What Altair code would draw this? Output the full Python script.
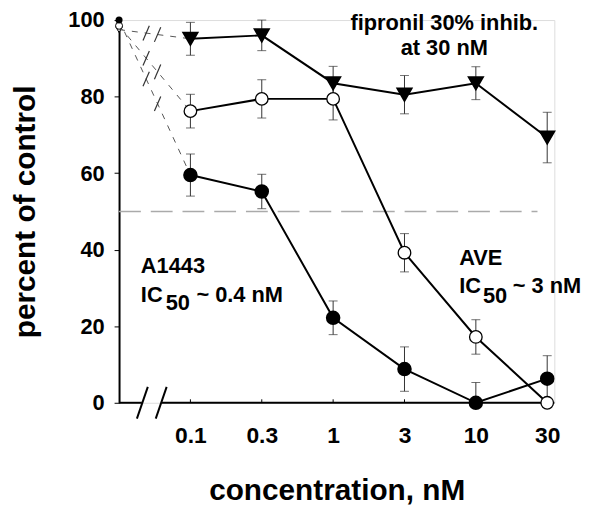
import altair as alt
import pandas as pd

# ---------------- data ----------------
conc_labels = ["0.1", "0.3", "1", "3", "10", "30"]
conc_pos = [0, 1, 2, 3, 4, 5]
control_pos = -1

a1443 = [59.5, 55.2, 22.2, 8.8, 0.0, 6.3]
a1443_err = [5.5, 4.5, 4.4, 5.8, 5.3, 6.0]
a1443_control = 100.0

ave = [76.2, 79.4, 79.4, 39.2, 17.2, 0.0]
ave_err = [4.4, 5.0, 5.5, 5.0, 4.5, 0.0]
ave_control = 98.5

fipronil = [95.1, 96.0, 83.5, 80.5, 83.5, 69.3]
fipronil_err = [4.3, 4.0, 4.4, 5.0, 4.3, 6.6]
fipronil_control = 97.5

y_ticks = [0, 20, 40, 60, 80, 100]
half_level = 50

# ---------------- layout ----------------
W, H = 439, 386
TOP = 10
X_DOM = [-1, 5.1]
Y_DOM = [0, 100]
PX_X = W / (X_DOM[1] - X_DOM[0])
PX_Y = H / (Y_DOM[1] - Y_DOM[0])
FONT = "Liberation Sans"

xs = alt.Scale(domain=X_DOM, nice=False, zero=False)
ys = alt.Scale(domain=Y_DOM, nice=False, zero=False)

label_js = "[" + ",".join("'%s'" % s for s in conc_labels) + "]"
xaxis = alt.Axis(values=conc_pos, labelExpr=label_js + "[datum.value]",
                 domain=False, ticks=False, tickSize=0, grid=False,
                 labelFont=FONT, labelFontSize=23, labelFontWeight="bold",
                 labelColor="black", labelPadding=22,
                 title="concentration, nM", titleFont=FONT, titleFontSize=30,
                 titleFontWeight="bold", titleColor="black",
                 titleBaseline="alphabetic", titleY=98)
yaxis = alt.Axis(values=y_ticks, domain=True, domainColor="black", domainWidth=2,
                 ticks=True, tickColor="black", tickWidth=1, tickSize=5, grid=False,
                 labelFont=FONT, labelFontSize=22, labelFontWeight="bold",
                 labelColor="black", labelPadding=10,
                 title="percent of control", titleFont=FONT, titleFontSize=30,
                 titleFontWeight="bold", titleColor="black",
                 titleBaseline="alphabetic", titleX=-85, titleY=H / 2)


def X(f):
    return alt.X(f, type="quantitative", scale=xs, axis=xaxis)


def Y(f):
    return alt.Y(f, type="quantitative", scale=ys, axis=yaxis)


series = [
    ("A1443", a1443, a1443_err, a1443_control),
    ("AVE", ave, ave_err, ave_control),
    ("fipronil", fipronil, fipronil_err, fipronil_control),
]

rows, err_rows, ctrl_rows, conn_rows, brk_rows = [], [], [], [], []
for name, vals, errs, ctrl in series:
    for p, v, e in zip(conc_pos, vals, errs):
        rows.append({"s": name, "x": p, "y": v})
        if e > 0:
            err_rows.append({"s": name, "x": p, "lo": max(v - e, 0), "hi": v + e})
    ctrl_rows.append({"s": name, "x": control_pos, "y": ctrl})
    conn_rows.append({"s": name, "x": control_pos, "y": ctrl})
    conn_rows.append({"s": name, "x": conc_pos[0], "y": vals[0]})
    # break marks on the dashed connector, computed in pixel space
    p0 = (0.0, (Y_DOM[1] - ctrl) * PX_Y)
    p1 = ((conc_pos[0] - control_pos) * PX_X, (Y_DOM[1] - vals[0]) * PX_Y)
    for t in (0.38, 0.54):
        cx = p0[0] + t * (p1[0] - p0[0])
        cy = p0[1] + t * (p1[1] - p0[1])
        dx, dy = 0.4 * 8, -0.92 * 8
        brk_rows.append({
            "x": (cx - dx) / PX_X + X_DOM[0], "y": Y_DOM[1] - (cy - dy) / PX_Y,
            "x2": (cx + dx) / PX_X + X_DOM[0], "y2": Y_DOM[1] - (cy + dy) / PX_Y,
        })

df = pd.DataFrame(rows)
df_err = pd.DataFrame(err_rows)
df_ctrl = pd.DataFrame(ctrl_rows)
df_conn = pd.DataFrame(conn_rows)
df_brk = pd.DataFrame(brk_rows)

# x-axis line with a break
gap_lo, gap_hi = (143 - 120) / PX_X + X_DOM[0], (163 - 120) / PX_X + X_DOM[0]
df_axis = pd.DataFrame({"x": [X_DOM[0], gap_hi], "x2": [gap_lo, X_DOM[1]],
                        "y": [0, 0], "y2": [0, 0]})
slash = []
for cxp in (143.5, 162.5):
    cx = (cxp - 120) / PX_X + X_DOM[0]
    slash.append({"x": cx - 5.5 / PX_X, "y": -16 / PX_Y,
                  "x2": cx + 5.5 / PX_X, "y2": 16 / PX_Y})
df_slash = pd.DataFrame(slash)
df_ticks = pd.DataFrame({"x": conc_pos, "y": [0] * 6, "y2": [3.5 / PX_Y] * 6})
df_half = pd.DataFrame({"x": [X_DOM[0]], "x2": [(542 - 120) / PX_X + X_DOM[0]],
                        "y": [half_level]})

base = alt.Chart(df)

half_line = alt.Chart(df_half).mark_rule(color="#aaaaaa", strokeWidth=1.5,
                                         strokeDash=[22, 10]).encode(
    x=X("x"), x2="x2", y=Y("y"))

conn = alt.Chart(df_conn).mark_line(color="#555555", strokeWidth=1,
                                    strokeDash=[6, 7]).encode(
    x=X("x"), y=Y("y"), detail="s:N")

brk = alt.Chart(df_brk).mark_rule(color="#333333", strokeWidth=1.2).encode(
    x=X("x"), y=Y("y"), x2="x2", y2="y2")

axis_line = alt.Chart(df_axis).mark_rule(color="black", strokeWidth=2).encode(
    x=X("x"), x2="x2", y=Y("y"))
slashes = alt.Chart(df_slash).mark_rule(color="black", strokeWidth=2).encode(
    x=X("x"), y=Y("y"), x2="x2", y2="y2")
xticks = alt.Chart(df_ticks).mark_rule(color="black", strokeWidth=1).encode(
    x=X("x"), y=Y("y"), y2="y2")

err_v = alt.Chart(df_err).mark_rule(color="#333333", strokeWidth=1).encode(
    x=X("x"), y=Y("lo"), y2="hi")
err_hi = alt.Chart(df_err).mark_tick(color="#333333", thickness=1, size=9,
                                     orient="horizontal").encode(x=X("x"), y=Y("hi"))
err_lo = alt.Chart(df_err).mark_tick(color="#333333", thickness=1, size=9,
                                     orient="horizontal").encode(x=X("x"), y=Y("lo"))

lines = base.mark_line(color="black", strokeWidth=2).encode(
    x=X("x"), y=Y("y"), detail="s:N")

m_fill = alt.Chart(df[df.s == "A1443"]).mark_point(
    shape="circle", filled=True, fill="black", stroke="black", size=160, opacity=1).encode(
    x=X("x"), y=Y("y"))
m_open = alt.Chart(df[df.s == "AVE"]).mark_point(
    shape="circle", filled=True, fill="white", stroke="black", strokeWidth=1.3,
    size=160, opacity=1).encode(x=X("x"), y=Y("y"))
m_tri = alt.Chart(df[df.s == "fipronil"]).mark_point(
    shape="triangle-down", filled=True, fill="black", stroke="black", size=200,
    opacity=1).encode(x=X("x"), y=Y("y"))

c_tri = alt.Chart(df_ctrl[df_ctrl.s == "fipronil"]).mark_point(
    shape="triangle-down", filled=True, fill="white", stroke="black", strokeWidth=1,
    size=45, opacity=1).encode(x=X("x"), y=Y("y"))
c_open = alt.Chart(df_ctrl[df_ctrl.s == "AVE"]).mark_point(
    shape="circle", filled=True, fill="white", stroke="black", strokeWidth=1,
    size=50, opacity=1).encode(x=X("x"), y=Y("y"))
c_fill = alt.Chart(df_ctrl[df_ctrl.s == "A1443"]).mark_point(
    shape="circle", filled=True, fill="black", size=50, opacity=1).encode(
    x=X("x"), y=Y("y"))

annotations = [
    ("fipronil 30% inhib.", 328, 10, "center"),
    ("at 30 nM", 328, 35, "center"),
    ("A1443", 22, 255, "left"),
    ("IC", 22, 284, "left"),
    ("50", 47, 292, "left"),
    ("~ 0.4 nM", 78, 284, "left"),
    ("AVE", 343, 247, "left"),
    ("IC", 343, 275, "left"),
    ("50", 367, 285, "left"),
    ("~ 3 nM", 397, 275, "left"),
]
texts = []
for t, px, py, al in annotations:
    texts.append(alt.Chart(df_half).mark_text(
        text=t, font=FONT, fontSize=22, fontWeight="bold", color="black",
        align=al, baseline="alphabetic").encode(x=alt.value(px), y=alt.value(py)))

chart = alt.layer(
    half_line, conn, brk, axis_line, slashes, xticks, err_v, err_hi, err_lo,
    lines, m_fill, m_open, m_tri, c_tri, c_open, c_fill, *texts
).properties(
    width=W, height=H,
    autosize=alt.AutoSizeParams(type="none"),
    padding={"left": 112, "top": TOP, "right": 40, "bottom": 106},
).configure_view(stroke=None).configure(background="white")

chart.save("out.html", embed_options={"renderer": "svg", "actions": False})
